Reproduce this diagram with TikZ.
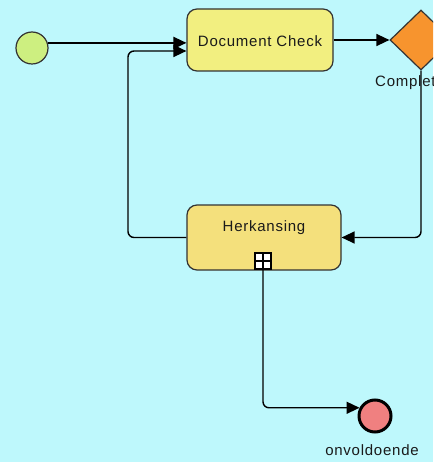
\documentclass[tikz,border=0pt]{standalone}
\usepackage{fontspec}
\newfontfamily\lblfont[LetterSpace=5]{Liberation Sans}
\usetikzlibrary{shapes.geometric,arrows.meta}
\definecolor{bgc}{HTML}{BEF8FC}
\definecolor{docc}{HTML}{F2EF80}
\definecolor{herkc}{HTML}{F4E07C}
\definecolor{startc}{HTML}{CDEF80}
\definecolor{gwc}{HTML}{F7942E}
\definecolor{endc}{HTML}{F08080}
\definecolor{edgec}{HTML}{333333}
\definecolor{txtc}{HTML}{1A1A1A}
\tikzset{
  task/.style={draw=edgec, line width=1.2pt, rounded corners=10pt, inner sep=0pt},
  flow/.style={draw=black, line width=1.4pt, rounded corners=6pt, -{Triangle[length=13pt,width=12pt]}},
  lbl/.style={font=\lblfont\fontsize{15}{17}\selectfont, text=txtc, inner sep=0pt},
}
\begin{document}
\begin{tikzpicture}[x=1pt,y=-1pt]
\fill[bgc] (0,0) rectangle (433,462);
\useasboundingbox (0,0) rectangle (433,462);
\clip (0,0) rectangle (433,462);
% nodes
\node[circle, draw=edgec, line width=1.2pt, fill=startc, minimum size=32pt, inner sep=0pt] (start) at (32,48) {};
\node[task, fill=docc, minimum width=146pt, minimum height=62pt] (doc) at (260,40) {};
\node[lbl] (doctxt) at (260,41) {Document Check};
\node[diamond, draw=edgec, line width=1.2pt, fill=gwc, minimum width=62pt, minimum height=60pt, inner sep=0pt] (gw) at (421,40) {};
\node[lbl, anchor=west] (gwtxt) at (375,83) {Complete};
\node[task, fill=herkc, minimum width=154pt, minimum height=65pt] (herk) at (264,237.5) {};
\node[lbl] (herktxt) at (264,228) {Herkansing};
\node[draw=black, line width=1.2pt, fill=white, minimum size=16pt, inner sep=0pt] (mk) at (263,261) {};
\draw[black, line width=1.2pt] (mk.north) -- (mk.south) (mk.west) -- (mk.east);
\node[circle, draw=black, line width=3pt, fill=endc, minimum size=32pt, inner sep=0pt] (end) at (375,416) {};
\node[lbl] (endtxt) at (372,450) {onvoldoende};
\coordinate (loopx) at (128,237.5);
% connectors
\draw[flow] (start.18) -- (start.18 -| doc.west);
\draw[flow] (doc.east) -- (gw.west);
\draw[flow] (gw.south) |- (herk.east);
\draw[flow] (herk.west) -- (loopx) |- ([yshift=-11pt]doc.west);
\draw[flow] (mk.south) |- (end.152);
\end{tikzpicture}
\end{document}
